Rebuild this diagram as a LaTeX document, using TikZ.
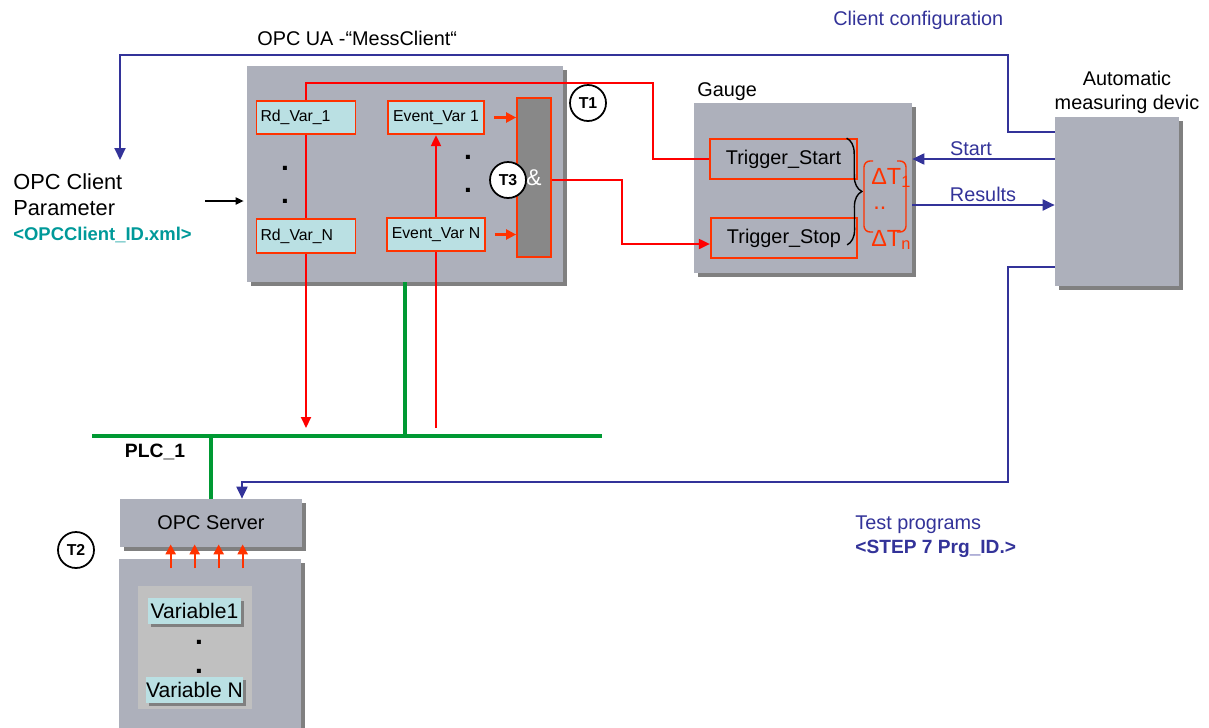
\documentclass[tikz,border=0pt]{standalone}
\usepackage{fontspec}
\setmainfont{Liberation Sans}
\usetikzlibrary{arrows.meta,shadows,decorations.pathreplacing}
\definecolor{boxgray}{RGB}{173,176,187}
\definecolor{shadowgray}{RGB}{128,128,128}
\definecolor{varcyan}{RGB}{186,224,227}
\definecolor{boxred}{RGB}{255,51,0}
\definecolor{linered}{RGB}{255,0,0}
\definecolor{plcgreen}{RGB}{0,153,51}
\definecolor{cfgblue}{RGB}{51,51,153}
\definecolor{idteal}{RGB}{0,153,153}
\definecolor{gatefill}{RGB}{136,136,136}
\definecolor{innergray}{RGB}{192,192,192}
\begin{document}
\begin{tikzpicture}[x=0.02cm,y=-0.02cm,
 lbl/.style={inner sep=0pt,font=\fontsize{11.3}{13.6}\selectfont},
 gbox/.style={fill=boxgray,inner sep=0pt,drop shadow={fill=shadowgray,opacity=1,shadow xshift=0.08cm,shadow yshift=-0.08cm}},
 var/.style={draw=boxred,fill=varcyan,line width=1pt,inner xsep=0.08cm,inner ysep=0pt,minimum height=0.67cm,font=\fontsize{9}{10}\selectfont},
 vbox/.style={fill=varcyan,inner sep=0pt,minimum width=1.88cm,minimum height=0.53cm,font=\fontsize{12}{13}\selectfont,
  drop shadow={fill=shadowgray,opacity=1,shadow xshift=0.06cm,shadow yshift=-0.06cm}},
 trig/.style={draw=boxred,line width=1pt,minimum width=2.93cm,minimum height=0.8cm,inner sep=0pt,font=\fontsize{11.3}{13.6}\selectfont},
 tmark/.style={circle,draw,line width=1pt,fill=white,minimum size=0.72cm,inner sep=0pt,font=\bfseries\fontsize{9}{10}\selectfont},
 dotmark/.style={anchor=base,inner sep=0pt,font=\bfseries\fontsize{16}{16}\selectfont},
 redline/.style={draw=linered,line width=1.1pt},
 redarrow/.style={redline,-{Triangle[length=0.22cm,width=0.2cm]}},
 orangearrow/.style={draw=boxred,line width=1.3pt,-{Triangle[length=0.2cm,width=0.2cm]}},
 bluearrow/.style={draw=cfgblue,line width=1.1pt,-{Triangle[length=0.24cm,width=0.22cm]}},
 greenline/.style={draw=plcgreen,line width=1.8pt},
 blackarrow/.style={line width=1pt,-{Triangle[length=0.16cm,width=0.14cm]}}]
\useasboundingbox (0,0) rectangle (1209,727);
\node[gbox,minimum width=6.32cm,minimum height=4.32cm] (client) at (405,174) {};
\node[lbl,anchor=west] (uaname) at (257,38) {OPC UA -“MessClient“};
\node[var,text width=1.82cm,align=left] (rd1) at (306,117.5) {Rd\_Var\_1};
\node[var,text width=1.82cm,align=left] (rdn) at (306,236) {Rd\_Var\_N};
\node[var,minimum width=1.92cm] (ev1) at (436,117.5) {Event\_Var 1};
\node[var,minimum width=1.96cm] (evn) at (436,234.5) {Event\_Var N};
\node[draw=boxred,fill=gatefill,line width=1pt,minimum width=0.68cm,minimum height=3.18cm,inner sep=0pt,text=white,font=\fontsize{13}{14}\selectfont] (gate) at (534,177.5) {\&};
\node[dotmark] at (285,170) {.};
\node[dotmark] at (285,203) {.};
\node[dotmark] at (468,159) {.};
\node[dotmark] at (468,192) {.};
\node[tmark] (t1) at (588,103) {T1};
\node[tmark] (t3) at (508,180) {T3};
\node[gbox,minimum width=4.36cm,minimum height=3.4cm] (gauge) at (803,188) {};
\node[lbl,anchor=west] (gaugename) at (697,92) {Gauge};
\node[trig] (tstart) at (783.5,159) {Trigger\_Start};
\node[trig] (tstop) at (784,238) {Trigger\_Stop};
\draw[decorate,decoration={brace,amplitude=0.3cm},line width=0.8pt] ([xshift=-0.22cm]tstart.north east) -- ([xshift=-0.22cm,yshift=0.28cm]tstop.south east);
\draw[boxred,line width=0.8pt,rounded corners=0.12cm] (873,161) -- (864,161) -- (864,232) -- (873,232);
\draw[boxred,line width=0.8pt,rounded corners=0.12cm] (897,161) -- (906,161) -- (906,232) -- (897,232);
\node[anchor=west,inner sep=0pt,text=boxred,font=\fontsize{13.3}{14}\selectfont] (dt1) at (871,178) {ΔT\textsubscript{1}};
\node[anchor=west,inner sep=0pt,text=boxred,font=\fontsize{13.3}{14}\selectfont] (dtdots) at (873,208) {..};
\node[anchor=west,inner sep=0pt,text=boxred,font=\fontsize{13.3}{14}\selectfont] (dtn) at (871,240) {ΔT\textsubscript{n}};
\node[gbox,minimum width=2.48cm,minimum height=3.38cm] (meas) at (1117,201.5) {};
\node[lbl,align=center] (measname) at (1127,92) {Automatic\\measuring devic};
\node[lbl,anchor=west,text=cfgblue] (cfgname) at (833,20) {Client configuration};
\node[lbl,text=cfgblue] (startname) at (971,149) {Start};
\node[lbl,text=cfgblue] (resname) at (983,194) {Results};
\node[anchor=west,align=left,inner sep=0pt,font=\fontsize{12.4}{14.9}\selectfont] (cpar) at (13,195) {OPC Client\\Parameter};
\node[anchor=west,inner sep=0pt,text=idteal,font=\bfseries\fontsize{10.5}{12}\selectfont] (cid) at (13,235) {<OPCClient\_ID.xml>};
\node[inner sep=0pt,font=\bfseries\fontsize{11}{12}\selectfont] (plcname) at (155,452) {PLC\_1};
\node[lbl,anchor=west,text=cfgblue] (testname) at (855,525) {Test programs};
\node[anchor=west,inner sep=0pt,text=cfgblue,font=\bfseries\fontsize{10.9}{12}\selectfont] (stepid) at (855,549) {<STEP 7 Prg\_ID.>};
\node[gbox,minimum width=3.64cm,minimum height=3.7cm] (plc) at (210,651.5) {};
\node[fill=innergray,minimum width=2.28cm,minimum height=2.46cm,inner sep=0pt] (varbg) at (195,647.5) {};
\node[vbox] (var1) at (194.5,611) {Variable1};
\node[vbox] (varn) at (194.5,690) {Variable N};
\node[dotmark] at (199,644) {.};
\node[dotmark] at (199,673) {.};
\node[gbox,minimum width=3.64cm,minimum height=0.96cm,font=\fontsize{11.3}{13.6}\selectfont] (server) at (211,523) {OPC Server};
\node[tmark] (t2) at (76,550) {T2};
\coordinate (busl) at (92,436);
\coordinate (busr) at (602,436);
\coordinate (cfgend) at (120,160);
\coordinate (parin) at (205,201);
\coordinate (gateout) at ([yshift=-0.05cm]gate.east);
\coordinate (resl) at ([yshift=-0.34cm]gauge.east);
\coordinate (stopin) at ([yshift=-0.12cm]tstop.west);
\draw[redline] (rd1.north) |- (653,83) |- (tstart.west);
\draw[redline] (rd1.south) -- (rdn.north);
\draw[redarrow,shorten >=0.16cm] (rdn.south) -- (rdn.south |- busl);
\draw[redline,shorten <=0.16cm] (evn.south |- busl) -- (evn.south);
\draw[redarrow] (evn.north) -- (ev1.south);
\foreach \v in {ev1,evn}{\draw[orangearrow,shorten <=0.18cm] (\v.east) -- (\v.east -| gate.west);}
\draw[redarrow] (gateout) -| (622,210) |- (stopin);
\draw[greenline] (busl) -- (busr);
\draw[greenline] (client.south) -- (client.south |- busl);
\draw[greenline] (server.north |- busl) -- (server.north);
\draw[bluearrow] ([yshift=-0.3cm]meas.north west) -| (1008,55) -| (cfgend);
\draw[bluearrow] (meas.west |- tstart) -- (gauge.east |- tstart);
\draw[bluearrow] (resl) -- (resl -| meas.west);
\draw[bluearrow] ([yshift=0.38cm]meas.south west) -| (1008,482) -| ([xshift=0.62cm]server.north);
\draw[blackarrow,shorten >=0.06cm] (parin) -- (parin -| client.west);
\foreach \dx in {51,75,99,123}{\draw[orangearrow] ([shift={(\dx,21)}]server.south west) -- ([shift={(\dx,-3)}]server.south west);}
\end{tikzpicture}
\end{document}
